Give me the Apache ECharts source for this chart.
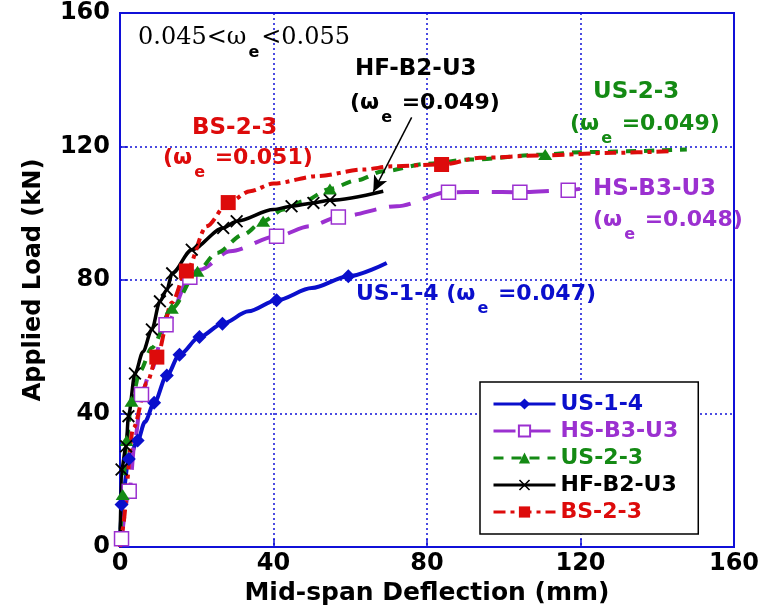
<!DOCTYPE html>
<html>
<head>
<meta charset="utf-8">
<script src="https://cdn.jsdelivr.net/npm/echarts@6/dist/echarts.min.js"></script>
<style>
  html, body { margin: 0; padding: 0; background: #fff; }
  #chart { width: 765px; height: 609px; }
</style>
</head>
<body>
<div id="chart"></div>
<script>
// Load–deflection curves. Each point: [mid-span deflection (mm), applied load (kN), marker shown (1/0)]
const us14 = [[0,0,0],[0.4,12.7,1],[2.3,26.4,1],[4.6,31.9,1],[6.5,37.5,0],[8.9,43.2,1],[12.2,51.4,1],[15.5,57.6,1],[20.7,62.9,1],[26.7,66.9,1],[33.5,70.6,0],[40.8,73.9,1],[50,77.6,0],[59.5,81.1,1],[69.5,85.1,0]];
const hsb3u3 = [[0.4,2.5,1],[2.4,16.7,1],[4,33,0],[5.6,45.7,1],[7.8,52.2,0],[12.0,66.6,1],[18.2,80.8,1],[20.8,83.1,0],[28.7,88.6,0],[40.8,93.1,1],[49.5,96.1,0],[56.9,98.9,1],[72.1,102.1,0],[85.6,106.3,1],[95,106.4,0],[104.2,106.3,1],[116.8,106.9,1],[119.9,107.3,0]];
const us23 = [[0,0,0],[0.7,15.7,1],[1.7,31.9,1],[3.0,43.7,1],[5.2,52.7,0],[8.3,59.7,0],[13.5,71.5,1],[20.2,82.6,1],[25.2,88.1,0],[32.1,93.6,0],[37.3,97.6,1],[42.6,101.1,0],[47.8,103.6,0],[54.7,107.3,1],[61.7,109.9,0],[68.6,112.6,0],[80,114.8,0],[91.2,116.1,0],[110.8,117.6,1],[119.9,118.3,0],[147.7,119.1,0]];
const hfb2u3 = [[0,0,0],[0.4,23.2,1],[1.6,30.2,1],[2.2,39.2,1],[3.9,52,1],[6,58.5,0],[8.3,65.2,1],[10.4,73.6,1],[12.2,77.1,1],[13.6,82.0,1],[18.7,89.1,1],[26.9,95.6,1],[30.4,97.6,1],[40,101.1,0],[44.7,102.1,1],[50.4,103.1,1],[54.7,103.9,1],[68.6,106.6,0]];
const bs23 = [[0,0,0],[0.4,4.3,0],[3.5,35.7,0],[7.0,49.2,0],[9.6,56.9,1],[13.5,73.2,0],[17.3,82.7,1],[22.6,96.1,0],[28.2,103.2,1],[33.9,106.6,0],[40,108.9,0],[51.3,111.1,0],[63.4,113.1,0],[71.1,114.1,0],[83.8,114.6,1],[93.8,116.6,0],[109.5,117.3,0],[128.5,118.1,0],[143.3,118.6,0]];

const seriesNames = ['US-1-4', 'HS-B3-U3', 'US-2-3', 'HF-B2-U3', 'BS-2-3'];
const xTicks = [0, 40, 80, 120, 160];
const yTicks = [0, 40, 80, 120, 160];
// Arrow pointing at the end of the HF-B2-U3 curve: [from, to] in data units
const hfArrow = [[76, 128.7], [66, 106.4]];

const BLUE = '#0a0fcc', PURPLE = '#9b30d0', GREEN = '#148a14', RED = '#dd0b0b', BLACK = '#000';
const AXIS_BLUE = '#1010d8';
const SANS = 'DejaVu Sans';

function toData(points) {
  return points.map(p => p[2] ? [p[0], p[1]] : { value: [p[0], p[1]], symbol: 'none' });
}

const crossPath = 'path://M0,1 L1,0 L10,9 L9,10 Z M9,0 L10,1 L1,10 L0,9 Z';

const chart = echarts.init(document.getElementById('chart'), null, { renderer: 'canvas' });

// Rich text with a lowered subscript "e"
function subLabel(before, after, color, x, y, mainFont, mainSize, mainWeight) {
  return {
    type: 'text',
    x: x, y: y,
    z: 100,
    style: {
      text: '{m|' + before + '}{s|e}{m|' + after + '}',
      verticalAlign: 'middle',
      align: 'left',
      rich: {
        m: { fontFamily: mainFont, fontSize: mainSize, fontWeight: mainWeight, fill: color, color: color },
        s: { fontFamily: SANS, fontSize: 16, fontWeight: 'bold', fill: color, color: color, padding: [30, 2, 0, 2] }
      }
    }
  };
}
function plainLabel(text, color, x, y) {
  return {
    type: 'text', x: x, y: y, z: 100,
    style: { text: text, fill: color, font: 'bold 23px "' + SANS + '"', verticalAlign: 'middle', align: 'left' }
  };
}

const option = {
  animation: false,
  backgroundColor: '#fff',
  grid: {
    left: 120, right: 31, top: 13, bottom: 62,
    show: true, borderColor: AXIS_BLUE, borderWidth: 2,
    outerBoundsMode: 'none', containLabel: false
  },
  xAxis: {
    type: 'value', min: xTicks[0], max: xTicks[xTicks.length - 1], interval: xTicks[1] - xTicks[0],
    name: 'Mid-span Deflection (mm)', nameLocation: 'middle', nameGap: 34,
    nameTextStyle: { fontFamily: SANS, fontWeight: 'bold', fontSize: 25, color: '#000' },
    axisLine: { show: true, lineStyle: { color: AXIS_BLUE, width: 2 } },
    axisTick: { show: true, inside: true, length: 8, lineStyle: { color: AXIS_BLUE, width: 1.5 } },
    axisLabel: { margin: 5, fontFamily: SANS, fontWeight: 'bold', fontSize: 24, color: '#000' },
    splitLine: { show: true, lineStyle: { color: AXIS_BLUE, width: 1.5, type: [2, 3] } }
  },
  yAxis: {
    type: 'value', min: yTicks[0], max: yTicks[yTicks.length - 1], interval: yTicks[1] - yTicks[0],
    name: 'Applied Load (kN)', nameLocation: 'middle', nameGap: 74, nameRotate: 90,
    nameTextStyle: { fontFamily: SANS, fontWeight: 'bold', fontSize: 24, color: '#000' },
    axisLine: { show: true, lineStyle: { color: AXIS_BLUE, width: 2 } },
    axisTick: { show: true, inside: true, length: 8, lineStyle: { color: AXIS_BLUE, width: 1.5 } },
    axisLabel: { margin: 10, fontFamily: SANS, fontWeight: 'bold', fontSize: 24, color: '#000' },
    splitLine: { show: true, lineStyle: { color: AXIS_BLUE, width: 1.5, type: [2, 3] } }
  },
  legend: {
    orient: 'vertical', left: 480, top: 382,
    padding: [11, 20, 11, 12], itemGap: 5, itemWidth: 62, itemHeight: 14, itemTextGap: 6,
    borderColor: '#000', borderWidth: 1.5, backgroundColor: '#fff',
    selectedMode: false,
    lineStyle: { width: 3 },
    textStyle: { fontFamily: SANS, fontWeight: 'bold', fontSize: 22, lineHeight: 22 },
    data: [
      { name: seriesNames[0], textStyle: { color: BLUE } },
      { name: seriesNames[1], textStyle: { color: PURPLE } },
      { name: seriesNames[2], textStyle: { color: GREEN } },
      { name: seriesNames[3], textStyle: { color: BLACK } },
      { name: seriesNames[4], textStyle: { color: RED } }
    ]
  },
  series: [
    {
      name: seriesNames[0], type: 'line', data: toData(us14),
      symbol: 'diamond', symbolSize: 14, smooth: 0.3, smoothMonotone: 'x',
      lineStyle: { color: BLUE, width: 4 }, itemStyle: { color: BLUE }
    },
    {
      name: seriesNames[1], type: 'line', data: toData(hsb3u3),
      symbol: 'rect', symbolSize: 14, smooth: 0.3, smoothMonotone: 'x',
      lineStyle: { color: PURPLE, width: 4, type: [22, 13] },
      itemStyle: { color: '#fff', borderColor: PURPLE, borderWidth: 1.5 }
    },
    {
      name: seriesNames[2], type: 'line', data: toData(us23),
      symbol: 'triangle', symbolSize: [14, 11], smooth: 0.3, smoothMonotone: 'x',
      lineStyle: { color: GREEN, width: 4, type: [10, 8] }, itemStyle: { color: GREEN }
    },
    {
      name: seriesNames[3], type: 'line', data: toData(hfb2u3),
      symbol: crossPath, symbolSize: 13, smooth: 0.3, smoothMonotone: 'x',
      lineStyle: { color: BLACK, width: 3.5 }, itemStyle: { color: BLACK },
      markLine: {
        silent: true, symbol: ['none', 'arrow'], symbolSize: [11, 16],
        label: { show: false },
        lineStyle: { color: BLACK, width: 1.5, type: 'solid' },
        data: [[{ coord: hfArrow[0] }, { coord: hfArrow[1] }]]
      }
    },
    {
      name: seriesNames[4], type: 'line', data: toData(bs23),
      symbol: 'rect', symbolSize: 15, smooth: 0.3, smoothMonotone: 'x',
      lineStyle: { color: RED, width: 4, type: [12, 5, 4, 5] }, itemStyle: { color: RED }
    }
  ],
  graphic: [
    subLabel('0.045<ω', '<0.055', BLACK, 138, 38, 'DejaVu Serif', 24, 'normal'),
    plainLabel('HF-B2-U3', BLACK, 355, 69),
    subLabel('(ω', ' =0.049)', BLACK, 350, 103, SANS, 22, 'bold'),
    plainLabel('BS-2-3', RED, 192, 128),
    subLabel('(ω', ' =0.051)', RED, 163, 158, SANS, 22, 'bold'),
    plainLabel('US-2-3', GREEN, 593, 92),
    subLabel('(ω', ' =0.049)', GREEN, 570, 124, SANS, 22, 'bold'),
    plainLabel('HS-B3-U3', PURPLE, 593, 189),
    subLabel('(ω', ' =0.048)', PURPLE, 593, 220, SANS, 22, 'bold'),
    subLabel('US-1-4 (ω', ' =0.047)', BLUE, 356, 294, SANS, 22, 'bold')
  ]
};

chart.setOption(option);
</script>
</body>
</html>
